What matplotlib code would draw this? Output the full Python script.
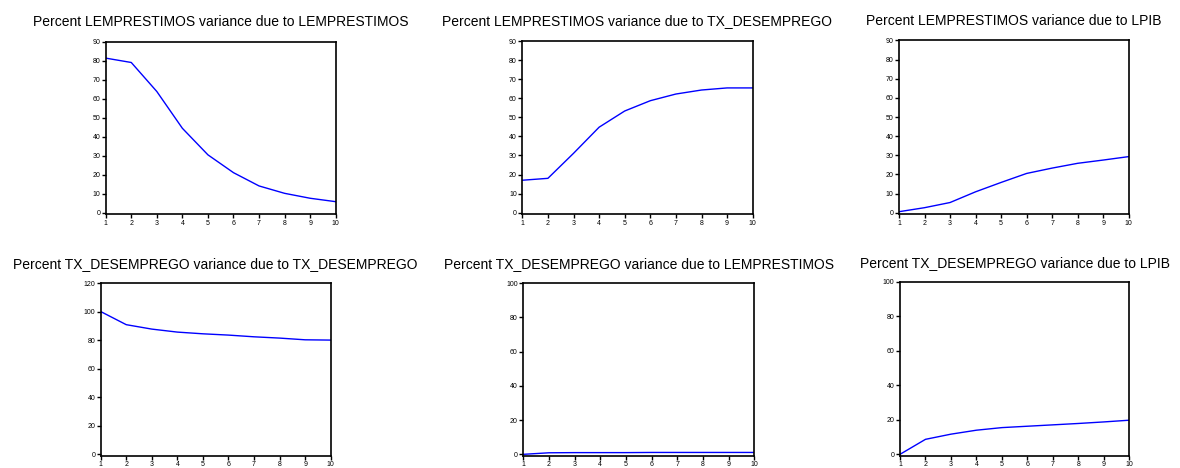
import matplotlib.pyplot as plt

periods = [1, 2, 3, 4, 5, 6, 7, 8, 9, 10]

lemp_lemp = [81.5, 79.2, 63.9, 44.5, 30.5, 21.1, 14.1, 10.2, 7.6, 5.8]
lemp_desemp = [17.0, 18.0, 31.1, 44.8, 53.3, 58.7, 62.2, 64.3, 65.4, 65.4]
lemp_lpib = [0.5, 2.6, 5.3, 10.9, 15.8, 20.5, 23.3, 25.8, 27.5, 29.3]
desemp_desemp = [100.0, 90.8, 87.7, 85.6, 84.4, 83.5, 82.3, 81.4, 80.2, 80.0]
desemp_lemp = [0.0, 0.9, 1.0, 1.0, 1.0, 1.1, 1.1, 1.1, 1.1, 1.1]
desemp_lpib = [0.0, 8.7, 11.7, 14.0, 15.5, 16.3, 17.1, 17.9, 18.8, 19.8]

titles = [
    'Percent LEMPRESTIMOS variance due to LEMPRESTIMOS',
    'Percent LEMPRESTIMOS variance due to TX_DESEMPREGO',
    'Percent LEMPRESTIMOS variance due to LPIB',
    'Percent TX_DESEMPREGO variance due to TX_DESEMPREGO',
    'Percent TX_DESEMPREGO variance due to LEMPRESTIMOS',
    'Percent TX_DESEMPREGO variance due to LPIB',
]
series = [lemp_lemp, lemp_desemp, lemp_lpib, desemp_desemp, desemp_lemp, desemp_lpib]

# pixel boxes (left, right, top, bottom) and y limits
boxes = [
    (105.7, 335.7, 42, 214),
    (522.3, 752.7, 41, 214),
    (899, 1128.7, 40.5, 214),
    (100.7, 330.7, 283, 455.7),
    (523.3, 754.3, 283, 455.7),
    (900, 1129.3, 282, 455.7),
]
ylims = [(-0.7, 90), (-0.7, 90), (-0.7, 90), (-1, 120), (-0.8, 100), (-0.8, 100)]
yticks = [range(0, 91, 10)] * 3 + [range(0, 121, 20)] + [range(0, 101, 20)] * 2
pads = [11.5, 11.5, 11.5, 11, 11, 11]

W, H = 1180, 468
plt.rcParams['font.family'] = 'Liberation Sans'
fig = plt.figure(figsize=(W / 100, H / 100), dpi=100)

for i in range(6):
    l, r, t, b = boxes[i]
    ax = fig.add_axes([l / W, 1 - b / H, (r - l) / W, (b - t) / H])
    ax.plot(periods, series[i], color='#0000ff', linewidth=1)
    ax.set_xlim(1, 10)
    ax.set_ylim(*ylims[i])
    ax.set_xticks(periods)
    ax.set_yticks(list(yticks[i]))
    ax.tick_params(labelsize=5, length=3, width=1, pad=1)
    for s in ax.spines.values():
        s.set_linewidth(1.2)
    ax.set_title(titles[i], fontsize=10, pad=pads[i])

fig.savefig('out.png', dpi=100)
